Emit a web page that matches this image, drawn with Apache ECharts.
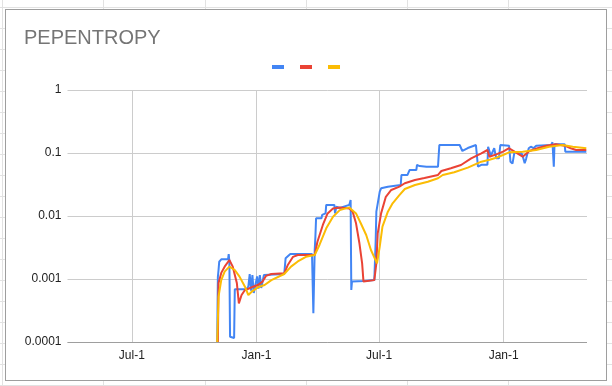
<!DOCTYPE html>
<html>
<head>
<meta charset="utf-8">
<script src="https://cdn.jsdelivr.net/npm/echarts@6/dist/echarts.min.js"></script>
<style>
html,body{margin:0;padding:0;width:612px;height:386px;overflow:hidden;background:#fff;position:relative;}
.vl{position:absolute;top:0;width:1px;height:386px;background:#e2e2e2;}
.hl{position:absolute;left:0;width:612px;height:1px;background:#e2e2e2;}
#frame{position:absolute;left:5px;top:9px;width:602px;height:372px;box-sizing:border-box;border:1px solid #9e9e9e;background:#fff;}
#chart{width:600px;height:370px;}
</style>
</head>
<body>
<div id="bg"></div>
<div id="frame"><div id="chart"></div></div>
<script>
// ---- data ----
const chartTitle = 'PEPENTROPY';
const seriesNames = ['A', 'B', 'C'];
const seriesColors = ['#4285f4', '#ea4335', '#fbbc04'];
const yTickLabels = ['0.0001', '0.001', '0.01', '0.1', '1'];
const xTickDates = ['2022-07-01', '2023-01-01', '2023-07-01', '2024-01-01'];
const xRange = ['2022-03-28', '2024-05-03'];

const blueData = [
  ['2022-11-04', 0.0001], ['2022-11-05', 0.00107], ['2022-11-06', 0.00139], ['2022-11-07', 0.00188],
  ['2022-11-10', 0.00205], ['2022-11-20', 0.00205], ['2022-11-21', 0.00249], ['2022-11-22', 0.0019],
  ['2022-11-23', 0.000121], ['2022-11-29', 0.000116], ['2022-11-30', 0.000687], ['2022-12-17', 0.000687],
  ['2022-12-20', 0.00076], ['2022-12-22', 0.0012], ['2022-12-24', 0.00065], ['2022-12-26', 0.00115],
  ['2022-12-28', 0.0006], ['2023-01-02', 0.0011], ['2023-01-04', 0.0007], ['2023-01-06', 0.00115],
  ['2023-01-08', 0.00072], ['2023-01-12', 0.00116], ['2023-01-14', 0.0012], ['2023-02-11', 0.0012],
  ['2023-02-13', 0.00213], ['2023-02-20', 0.00249], ['2023-03-24', 0.00249], ['2023-03-26', 0.000286],
  ['2023-03-28', 0.00289], ['2023-03-29', 0.00469], ['2023-03-30', 0.00919], ['2023-04-07', 0.00919],
  ['2023-04-08', 0.0104], ['2023-04-13', 0.011], ['2023-04-14', 0.015], ['2023-04-26', 0.015],
  ['2023-04-27', 0.011], ['2023-04-29', 0.014], ['2023-05-04', 0.0134], ['2023-05-18', 0.015],
  ['2023-05-20', 0.0179], ['2023-05-21', 0.000669], ['2023-05-22', 0.00091], ['2023-06-09', 0.00093],
  ['2023-06-24', 0.00096], ['2023-06-26', 0.004], ['2023-06-27', 0.0117], ['2023-06-29', 0.0124],
  ['2023-07-02', 0.0243], ['2023-07-04', 0.0275], ['2023-07-14', 0.0292], ['2023-07-16', 0.0311],
  ['2023-08-02', 0.0311], ['2023-08-03', 0.0448], ['2023-08-12', 0.0448], ['2023-08-15', 0.0537],
  ['2023-08-25', 0.0537], ['2023-08-26', 0.0645], ['2023-08-30', 0.062], ['2023-09-09', 0.0606],
  ['2023-09-26', 0.0606], ['2023-09-28', 0.134], ['2023-10-28', 0.134], ['2023-11-01', 0.1076],
  ['2023-11-09', 0.12], ['2023-11-21', 0.134], ['2023-11-24', 0.0606], ['2023-11-29', 0.065],
  ['2023-12-08', 0.065], ['2023-12-09', 0.126], ['2023-12-13', 0.09], ['2023-12-18', 0.119],
  ['2023-12-21', 0.0824], ['2023-12-25', 0.0824], ['2023-12-27', 0.134], ['2024-01-09', 0.13],
  ['2024-01-11', 0.0728], ['2024-01-14', 0.068], ['2024-01-17', 0.105], ['2024-01-19', 0.1],
  ['2024-01-24', 0.097], ['2024-01-27', 0.1], ['2024-01-29', 0.09], ['2024-02-01', 0.0687],
  ['2024-02-03', 0.08], ['2024-02-07', 0.119], ['2024-02-10', 0.126], ['2024-02-14', 0.119],
  ['2024-02-18', 0.13], ['2024-03-11', 0.134], ['2024-03-13', 0.148], ['2024-03-15', 0.0606],
  ['2024-03-16', 0.138], ['2024-03-31', 0.138], ['2024-04-01', 0.105], ['2024-05-02', 0.105]
];

const redData = [
  ['2022-11-05', 0.0001], ['2022-11-06', 0.000865], ['2022-11-10', 0.00125], ['2022-11-15', 0.00157],
  ['2022-11-22', 0.002], ['2022-11-27', 0.00157], ['2022-12-03', 0.000865], ['2022-12-06', 0.000411],
  ['2022-12-10', 0.000557], ['2022-12-15', 0.000669], ['2022-12-20', 0.0007], ['2022-12-27', 0.000755],
  ['2023-01-03', 0.000803], ['2023-01-10', 0.00091], ['2023-01-15', 0.00112], ['2023-01-23', 0.0012],
  ['2023-02-11', 0.00123], ['2023-02-16', 0.00165], ['2023-02-24', 0.00225], ['2023-03-03', 0.0024],
  ['2023-03-28', 0.0024], ['2023-04-01', 0.00391], ['2023-04-09', 0.0072], ['2023-04-16', 0.011],
  ['2023-04-24', 0.0132], ['2023-05-04', 0.0137], ['2023-05-18', 0.0132], ['2023-05-23', 0.0117],
  ['2023-05-28', 0.00766], ['2023-06-02', 0.00369], ['2023-06-06', 0.00177], ['2023-06-08', 0.00091],
  ['2023-06-24', 0.00096], ['2023-06-27', 0.00177], ['2023-06-29', 0.00531], ['2023-07-04', 0.011],
  ['2023-07-11', 0.0202], ['2023-07-19', 0.0259], ['2023-07-31', 0.0292], ['2023-08-08', 0.0331],
  ['2023-08-23', 0.0373], ['2023-09-06', 0.040], ['2023-09-26', 0.0448], ['2023-10-01', 0.0518],
  ['2023-10-15', 0.0572], ['2023-10-30', 0.0645], ['2023-11-14', 0.0824], ['2023-11-29', 0.099],
  ['2023-12-08', 0.1116], ['2023-12-11', 0.0873], ['2023-12-21', 0.095], ['2023-12-31', 0.105],
  ['2024-01-09', 0.119], ['2024-01-17', 0.105], ['2024-01-29', 0.0873], ['2024-02-08', 0.1076],
  ['2024-02-20', 0.119], ['2024-03-04', 0.1306], ['2024-03-18', 0.1375], ['2024-03-31', 0.1306],
  ['2024-04-09', 0.119], ['2024-04-17', 0.1116], ['2024-05-02', 0.1116]
];

const yellowData = [
  ['2022-11-04', 0.0001], ['2022-11-06', 0.000524], ['2022-11-10', 0.00096], ['2022-11-15', 0.00131],
  ['2022-11-22', 0.00157], ['2022-11-30', 0.00139], ['2022-12-07', 0.00109], ['2022-12-15', 0.000755],
  ['2022-12-20', 0.000557], ['2022-12-25', 0.000629], ['2023-01-03', 0.000738], ['2023-01-13', 0.000803],
  ['2023-01-23', 0.00096], ['2023-02-11', 0.0012], ['2023-02-21', 0.00157], ['2023-03-03', 0.0019],
  ['2023-03-15', 0.00225], ['2023-03-28', 0.0024], ['2023-04-04', 0.00347], ['2023-04-14', 0.00638],
  ['2023-04-24', 0.00975], ['2023-05-04', 0.0124], ['2023-05-18', 0.0137], ['2023-05-28', 0.011],
  ['2023-06-04', 0.00766], ['2023-06-12', 0.00499], ['2023-06-19', 0.00289], ['2023-06-28', 0.00177],
  ['2023-07-02', 0.00326], ['2023-07-06', 0.00676], ['2023-07-14', 0.0117], ['2023-07-21', 0.0159],
  ['2023-07-31', 0.0215], ['2023-08-08', 0.0268], ['2023-08-23', 0.0311], ['2023-09-11', 0.035],
  ['2023-09-26', 0.0397], ['2023-10-03', 0.0448], ['2023-10-20', 0.0494], ['2023-11-09', 0.0585],
  ['2023-11-29', 0.0728], ['2023-12-11', 0.078], ['2023-12-21', 0.084], ['2023-12-31', 0.0929],
  ['2024-01-09', 0.1026], ['2024-01-29', 0.105], ['2024-02-18', 0.1116], ['2024-03-08', 0.126],
  ['2024-03-28', 0.134], ['2024-04-12', 0.126], ['2024-05-02', 0.119]
];

// ---- spreadsheet background grid ----
const bg = document.getElementById('bg');
[2, 103, 205, 306, 407, 508].forEach(x => {
  const d = document.createElement('div'); d.className = 'vl'; d.style.left = x + 'px'; bg.appendChild(d);
});
for (let y = 7; y < 386; y += 21) {
  const d = document.createElement('div'); d.className = 'hl'; d.style.top = y + 'px'; bg.appendChild(d);
}

// ---- chart ----
const MONTHS = ['Jan','Feb','Mar','Apr','May','Jun','Jul','Aug','Sep','Oct','Nov','Dec'];
const FONT = '"Liberation Sans", Arial, sans-serif';
const ts = s => Date.UTC(+s.slice(0, 4), +s.slice(5, 7) - 1, +s.slice(8, 10));
const chart = echarts.init(document.getElementById('chart'), null, {renderer: 'canvas'});
const allData = [blueData, redData, yellowData];
const xTicks = xTickDates.map(ts);
chart.setOption({
  animation: false,
  textStyle: {fontFamily: FONT},
  title: {
    text: chartTitle, left: 13, top: 13,
    textStyle: {fontSize: 20, fontWeight: 'normal', color: '#757575', fontFamily: FONT}
  },
  legend: {
    top: 50, left: 'center', icon: 'rect', itemWidth: 12, itemHeight: 4, itemGap: 16,
    formatter: () => '', data: seriesNames,
    textStyle: {fontSize: 1}
  },
  grid: {left: 61.5, right: 19, top: 80, bottom: 38},
  xAxis: {
    type: 'value',
    min: ts(xRange[0]), max: ts(xRange[1]),
    axisLine: {show: false},
    axisTick: {show: false, customValues: xTicks},
    axisLabel: {
      customValues: xTicks,
      color: '#222', fontSize: 12, fontFamily: FONT, margin: 8,
      formatter: v => { const d = new Date(v); return MONTHS[d.getUTCMonth()] + '-' + d.getUTCDate(); }
    },
    splitLine: {show: true, lineStyle: {color: '#cccccc', width: 1}}
  },
  yAxis: {
    type: 'log', logBase: 10, min: 0.0001, max: 1,
    axisLine: {show: false}, axisTick: {show: false},
    axisLabel: {
      color: '#222', fontSize: 12, fontFamily: FONT, margin: 6,
      formatter: v => yTickLabels.find(t => Math.abs(Math.log10(+t) - Math.log10(v)) < 1e-6) || ''
    },
    splitLine: {show: true, lineStyle: {color: '#cccccc', width: 1}}
  },
  series: allData.map((d, i) => ({
    name: seriesNames[i], type: 'line', data: d.map(p => [ts(p[0]), p[1]]),
    showSymbol: false, symbol: 'none',
    color: seriesColors[i], lineStyle: {width: 2, color: seriesColors[i]}, z: 2 + i, clip: true
  })),
  graphic: [{
    type: 'line', z: 1, silent: true,
    shape: {x1: 61.5, y1: 332.5, x2: 581, y2: 332.5},
    style: {stroke: '#9e9e9e', lineWidth: 1}
  }]
});
</script>
</body>
</html>
